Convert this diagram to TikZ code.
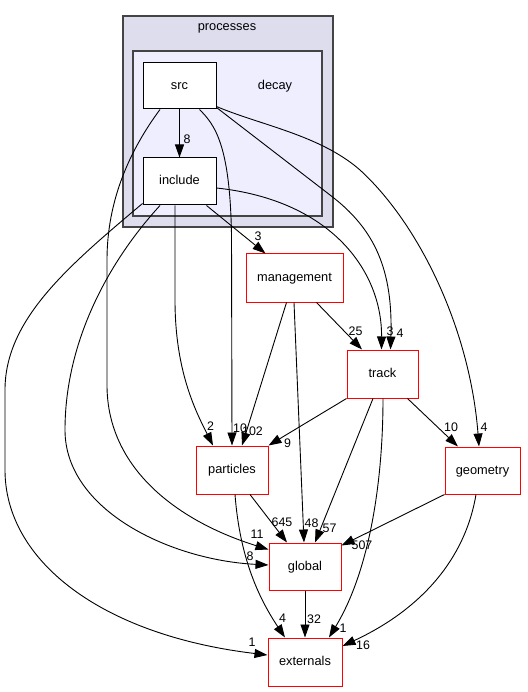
\documentclass[tikz,border=0pt]{standalone}
\usepackage{fontspec}
\setmainfont{Liberation Sans}
\usetikzlibrary{arrows.meta,calc}
\definecolor{outerfill}{HTML}{DDDDEE}
\definecolor{innerfill}{HTML}{EEEEFF}
\definecolor{clusterline}{HTML}{444444}
\definecolor{dirred}{HTML}{FF0000}
\begin{document}
\begin{tikzpicture}[x=1pt,y=-1pt,
  every node/.style={font=\fontsize{12.8}{15}\selectfont},
  box/.style={draw, rectangle, fill=white, line width=1pt, inner sep=0pt, text height=0.85em, text depth=0.15em},
  dirbox/.style={box, draw=dirred},
  srcbox/.style={box, draw=black},
  cluster/.style={draw=clusterline, line width=1.2pt, rectangle, inner sep=0pt},
  edge/.style={draw=black, line width=0.9pt, -{Triangle[length=13pt,width=9pt]}},
  lbl/.style={inner sep=0pt, font=\fontsize{12.4}{14}\selectfont},
]
\useasboundingbox (0,0) rectangle (527,692);
\fill[white] (0,0) rectangle (527,692);

% clusters
\node[cluster, fill=outerfill, minimum width=210pt, minimum height=211pt] (processes) at (228,121.5) {};
\node[cluster, fill=innerfill, minimum width=189pt, minimum height=165pt] (decay) at (227.5,133.5) {};
\node[anchor=base] (processeslbl) at (227,30.7) {processes};
\node[anchor=base] (decaylbl) at (275,90) {decay};

% nodes
\node[srcbox, minimum width=73pt, minimum height=46pt] (src) at (179.5,86) {src};
\node[srcbox, minimum width=73pt, minimum height=47pt] (include) at (179.5,181.5) {include};
\node[dirbox, minimum width=97pt, minimum height=48pt] (management) at (294.5,278) {management};
\node[dirbox, minimum width=71pt, minimum height=48pt] (track) at (382.5,374) {track};
\node[dirbox, minimum width=72pt, minimum height=48pt] (particles) at (232,470) {particles};
\node[dirbox, minimum width=75pt, minimum height=47pt] (geometry) at (482.5,470.5) {geometry};
\node[dirbox, minimum width=72pt, minimum height=47pt] (global) at (305,566.5) {global};
\node[dirbox, minimum width=74pt, minimum height=48pt] (externals) at (305,662) {externals};

% edges
\draw[edge] (src.south) -- (include.north);
\draw[edge] ([xshift=20pt]src.south) .. controls (215,125) and (230,145) .. (231.5,235) -- (particles.north);
\draw[edge] ([xshift=-19.5pt]src.south) .. controls (130,150) and (107,200) .. (107,260) -- (107,385) .. controls (107,470) and (180,522) .. ([yshift=17pt]global.west);
\draw[edge] ([xshift=-19.5pt]include.south) .. controls (110,260) and (65,340) .. (65,430) .. controls (65,510) and (170,560) .. ([yshift=1.5pt]global.west);
\draw[edge] ([yshift=2pt]include.south west) .. controls (67,267) and (5,320) .. (5,390) -- (5,470) .. controls (5,560) and (100,635) .. ([yshift=7pt]externals.west);
\draw[edge] ([xshift=-4.5pt]include.south) -- (175,300) .. controls (175,370) and (195,410) .. ([xshift=-19pt]particles.north);
\draw[edge] ([xshift=27pt]include.south) -- ([xshift=-29pt]management.north);
\draw[edge] ([yshift=-6.5pt]include.east) .. controls (330,200) and (382,270) .. ([xshift=-1pt]track.north);
\draw[edge] ([yshift=2pt]src.south east) -- (330,195) .. controls (375,229) and (393,270) .. ([xshift=8pt]track.north);
\draw[edge] ([yshift=3pt]src.south east) .. controls (260,125) and (320,135) .. (360,170) .. controls (420,225) and (470,330) .. ([xshift=-3.5pt]geometry.north);
\draw[edge] ([xshift=-8pt]management.south) -- ([xshift=10pt]particles.north);
\draw[edge] ([xshift=-0.5pt]management.south) -- ([xshift=-1pt]global.north);
\draw[edge] ([xshift=22pt]management.south) -- ([xshift=-20.5pt]track.north);
\draw[edge] (track.south west) -- (particles.north east);
\draw[edge] ([xshift=-9.5pt]track.south) -- ([xshift=10pt]global.north);
\draw[edge] ([xshift=0.5pt]track.south) .. controls (383,480) and (370,570) .. ([xshift=24pt]externals.north);
\draw[edge] ([xshift=25pt]track.south) -- ([xshift=-24.5pt]geometry.north);
\draw[edge] ([xshift=18pt]particles.south) -- ([xshift=-18pt]global.north);
\draw[edge] ([xshift=3pt]particles.south) .. controls (240,560) and (260,600) .. ([xshift=-20pt]externals.north);
\draw[edge] (geometry.south west) -- ([yshift=-3pt]global.north east);
\draw[edge] ([xshift=-6.5pt]geometry.south) .. controls (465,560) and (420,610) .. ([yshift=16pt]externals.east);
\draw[edge] (global.south) -- (externals.north);

% edge labels
\node[lbl] (l1) at (187,139) {8};
\node[lbl] (l2) at (258,236) {3};
\node[lbl] (l3) at (355.5,331) {25};
\node[lbl] (l4) at (390,331) {3};
\node[lbl] (l5) at (400,333) {4};
\node[lbl] (l6) at (451,427) {10};
\node[lbl] (l7) at (484,427) {4};
\node[lbl] (l8) at (210.5,426) {2};
\node[lbl] (l9) at (240,428) {10};
\node[lbl] (l10) at (252.5,431) {102};
\node[lbl] (l11) at (287.5,443) {9};
\node[lbl] (l12) at (282,522) {645};
\node[lbl] (l13) at (311.5,523) {48};
\node[lbl] (l14) at (329.5,528) {57};
\node[lbl] (l15) at (257,534) {11};
\node[lbl] (l16) at (362,545) {507};
\node[lbl] (l17) at (250,556) {8};
\node[lbl] (l18) at (282.5,618.5) {4};
\node[lbl] (l19) at (314,619.5) {32};
\node[lbl] (l20) at (343,628) {1};
\node[lbl] (l21) at (252,642.5) {1};
\node[lbl] (l22) at (363,645) {16};
\end{tikzpicture}
\end{document}
